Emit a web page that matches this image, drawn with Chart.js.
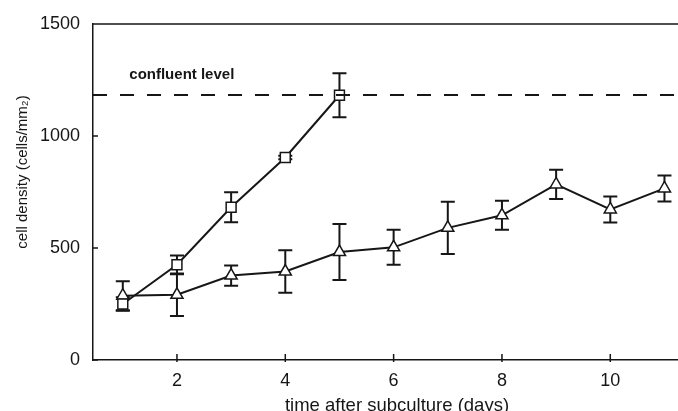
<!DOCTYPE html>
<html>
<head>
<meta charset="utf-8">
<script src="https://cdn.jsdelivr.net/npm/chart.js@4"></script>
<style>
  body { margin: 0; background: #fff; }
  canvas { display: block; }
</style>
</head>
<body>
<canvas id="myChart" width="678" height="411"></canvas>
<script>
'use strict';

// confluent culture (squares), days 1-5
let squareDays = [1, 2, 3, 4, 5];
let squareMean = [250, 425, 682, 904, 1182];
let squareErr = [30, 42, 67, 8, 98];

// sparse culture (triangles), days 1-11
let triangleDays = [1, 2, 3, 4, 5, 6, 7, 8, 9, 10, 11];
let triangleMean = [287, 291, 377, 395, 482, 503, 590, 646, 784, 672, 766];
let triangleErr = [65, 95, 45, 95, 125, 78, 117, 65, 65, 58, 58];

let confluentLevel = 1183;
let xTicks = [2, 4, 6, 8, 10];
let yTicks = [0, 500, 1000, 1500];
let xMin = 0.45;
let xMax = 11.25;

let ink = '#161616';
let fontFamily = '"Liberation Sans", Arial, sans-serif';

function toPoints(xs, ys, errs) {
  let pts = [];
  for (let i = 0; i < xs.length; i++) {
    pts.push({ x: xs[i], y: ys[i], err: errs ? errs[i] : 0 });
  }
  return pts;
}

// error bars, drawn under the markers
const errorBars = {
  id: 'errorBars',
  beforeDatasetsDraw(chart) {
    let ctx = chart.ctx;
    let xScale = chart.scales.x;
    let yScale = chart.scales.y;
    ctx.save();
    ctx.strokeStyle = ink;
    ctx.lineWidth = 2;
    chart.data.datasets.forEach((ds) => {
      ds.data.forEach((p) => {
        if (!p.err) return;
        let px = xScale.getPixelForValue(p.x);
        let top = yScale.getPixelForValue(p.y + p.err);
        let bot = yScale.getPixelForValue(p.y - p.err);
        ctx.beginPath();
        ctx.moveTo(px, top);
        ctx.lineTo(px, bot);
        ctx.moveTo(px - 7, top);
        ctx.lineTo(px + 7, top);
        ctx.moveTo(px - 7, bot);
        ctx.lineTo(px + 7, bot);
        ctx.stroke();
      });
    });
    ctx.restore();
  },
};

// frame top line, inward ticks, axis titles and the confluent label
const decorations = {
  id: 'decorations',
  afterDraw(chart) {
    let ctx = chart.ctx;
    let area = chart.chartArea;
    let xScale = chart.scales.x;
    let yScale = chart.scales.y;
    ctx.save();
    ctx.strokeStyle = ink;
    ctx.lineWidth = 1.5;
    ctx.beginPath();
    ctx.moveTo(area.left, area.top);
    ctx.lineTo(area.right, area.top);
    yTicks.forEach((v) => {
      let py = yScale.getPixelForValue(v);
      ctx.moveTo(area.left, py);
      ctx.lineTo(area.left + 5, py);
    });
    xTicks.forEach((v) => {
      let px = xScale.getPixelForValue(v);
      ctx.moveTo(px, area.bottom - 6);
      ctx.lineTo(px, area.bottom + 2);
    });
    ctx.stroke();

    ctx.fillStyle = ink;
    ctx.font = 'bold 15px ' + fontFamily;
    ctx.textAlign = 'left';
    ctx.textBaseline = 'middle';
    ctx.fillText('confluent level', xScale.getPixelForValue(1.12), yScale.getPixelForValue(1272));

    ctx.font = '18.5px ' + fontFamily;
    ctx.textAlign = 'center';
    ctx.textBaseline = 'alphabetic';
    ctx.fillText('time after subculture (days)', 397, 411);

    ctx.translate(23, 172);
    ctx.rotate(-Math.PI / 2);
    ctx.font = '15px ' + fontFamily;
    ctx.textBaseline = 'middle';
    ctx.fillText('cell density (cells/mm\u2082)', 0, 0);
    ctx.restore();
  },
};

const config = {
  type: 'line',
  data: {
    datasets: [
      {
        label: 'confluent level',
        data: [{ x: xMin, y: confluentLevel }, { x: xMax, y: confluentLevel }],
        borderColor: ink,
        borderWidth: 2,
        borderDash: [14, 13],
        pointRadius: 0,
      },
      {
        label: 'squares',
        data: toPoints(squareDays, squareMean, squareErr),
        borderColor: ink,
        borderWidth: 2,
        pointStyle: 'rect',
        pointRadius: 7,
        pointBorderWidth: 1.5,
        pointBackgroundColor: '#fff',
        pointBorderColor: ink,
      },
      {
        label: 'triangles',
        data: toPoints(triangleDays, triangleMean, triangleErr),
        borderColor: ink,
        borderWidth: 2,
        pointStyle: 'triangle',
        pointRadius: 7,
        pointBorderWidth: 1.5,
        pointBackgroundColor: '#fff',
        pointBorderColor: ink,
      },
    ],
  },
  options: {
    responsive: false,
    animation: false,
    devicePixelRatio: 1,
    layout: { autoPadding: false, padding: { top: 24, left: 0, right: 0, bottom: 0 } },
    plugins: { legend: { display: false }, tooltip: { enabled: false } },
    scales: {
      x: {
        type: 'linear',
        min: xMin,
        max: xMax,
        afterBuildTicks(scale) {
          scale.ticks = xTicks.map((v) => ({ value: v }));
        },
        afterFit(scale) {
          scale.height = 51;
        },
        grid: { display: false, drawTicks: false },
        border: { display: true, color: ink, width: 1.5 },
        ticks: {
          padding: 10,
          color: ink,
          font: { family: fontFamily, size: 18 },
          callback: (v) => String(v),
        },
      },
      y: {
        min: 0,
        max: 1500,
        afterBuildTicks(scale) {
          scale.ticks = yTicks.map((v) => ({ value: v }));
        },
        afterFit(scale) {
          scale.width = 93;
        },
        grid: { display: false, drawTicks: false },
        border: { display: true, color: ink, width: 1.5 },
        ticks: {
          padding: 13,
          color: ink,
          font: { family: fontFamily, size: 18 },
          callback: (v) => String(v),
        },
      },
    },
  },
  plugins: [errorBars, decorations],
};

let chartCanvas = document.getElementById('myChart').getContext('2d');
const myChart = new Chart(chartCanvas, config);
</script>
</body>
</html>
